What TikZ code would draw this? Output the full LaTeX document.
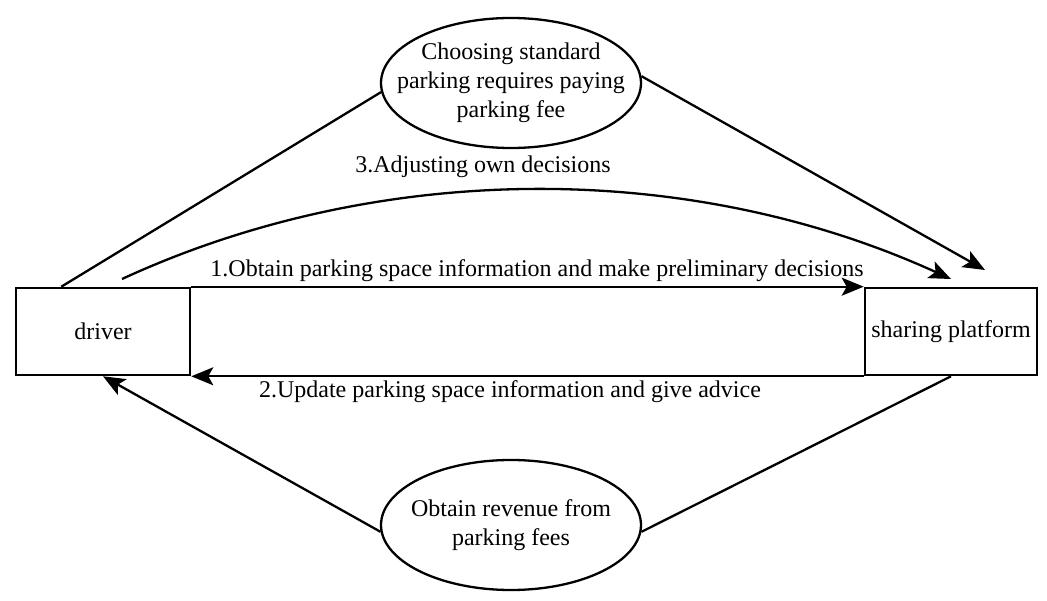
\documentclass[tikz,border=0pt]{standalone}
\usepackage{fontspec}
\setmainfont{Liberation Serif}
\newfontfamily\tnrfont{Liberation Serif}
\usetikzlibrary{arrows.meta,shapes.geometric,calc}
\begin{document}
\begin{tikzpicture}[x=1pt,y=-1pt,
  txt/.style={font=\tnrfont\fontsize{24}{29}\selectfont},
  box/.style={draw,line width=2.6pt,minimum height=87pt,inner sep=0pt,txt},
  oval/.style={draw,ellipse,line width=2.3pt,minimum width=260pt,minimum height=130pt,inner sep=0pt},
  ovaltext/.style={txt,align=center,inner sep=0pt},
  conn/.style={line width=2.3pt},
  arr/.style={conn,-{Stealth[length=22pt,width=18pt,inset=5pt]}},
  lbl/.style={txt,inner sep=0pt,anchor=base}]
\useasboundingbox (0,0) rectangle (1047,601);

\node[box,minimum width=174pt] (driver) at (103,331.5) {driver};
\node[box,minimum width=172pt] (platform) at (951,331.5) {sharing platform};
\node[oval] (top) at (511,83) {};
\node[ovaltext] (toptext) at (top.center) {Choosing standard\\parking requires paying\\parking fee};
\node[oval] (bot) at (511,525) {};
\node[ovaltext] (bottext) at (bot.center) {Obtain revenue from\\parking fees};

\coordinate (c3s) at (122,279);
\coordinate (c3e) at (951,279);
\coordinate (tr) at (985,270);

\draw[conn] ($(driver.north west)!0.264!(driver.north east)$) -- (top.184);
\draw[arr] (top.3) -- (tr);
\draw[arr] (c3s) .. controls (380,160) and (690,160) .. (c3e);
\draw[arr] (driver.north east) -- (platform.north west);
\draw[arr] (platform.south west) -- (driver.south east);
\draw[conn] (platform.south) -- (bot.-3);
\draw[arr] (bot.183) -- (driver.south);

\node[lbl] (l1) at (537,277) {1.Obtain parking space information and make preliminary decisions};
\node[lbl] (l2) at (510,398) {2.Update parking space information and give advice};
\node[lbl] (l3) at (483,173) {3.Adjusting own decisions};
\end{tikzpicture}
\end{document}
